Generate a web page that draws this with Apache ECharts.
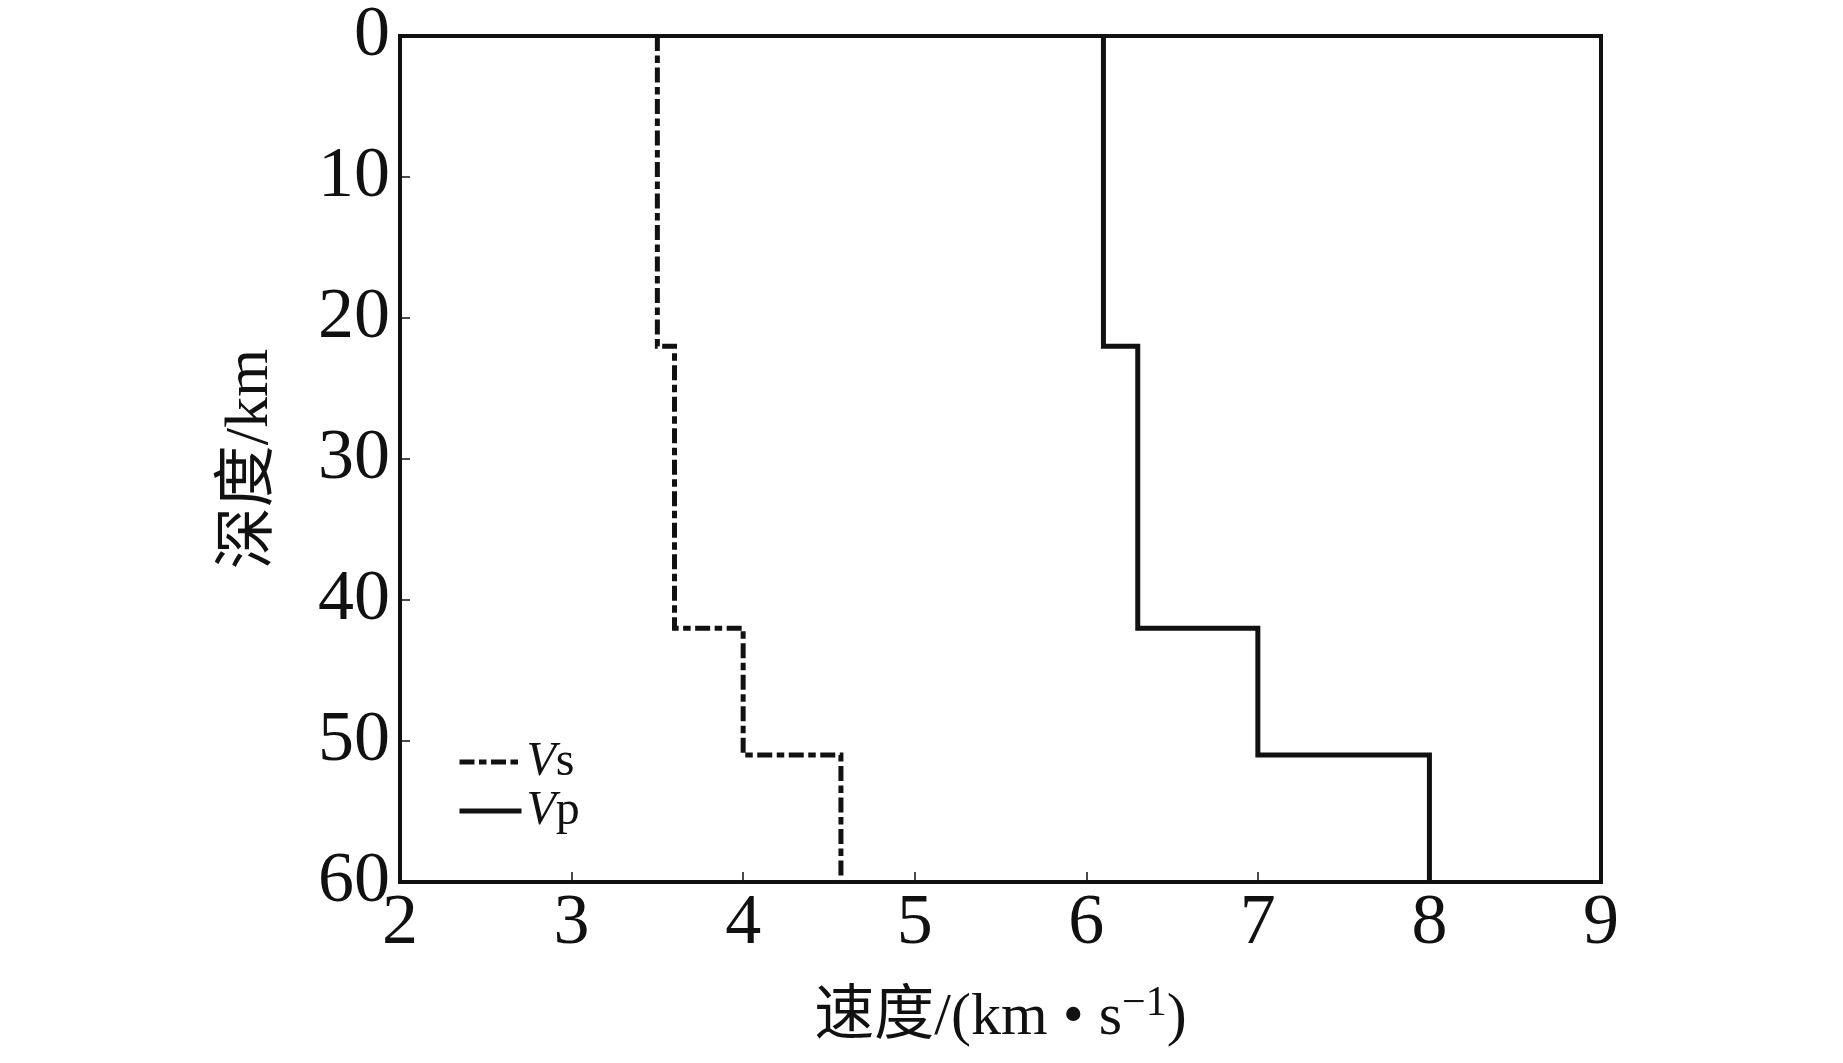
<!DOCTYPE html>
<html>
<head>
<meta charset="utf-8">
<script src="https://cdn.jsdelivr.net/npm/echarts@6/dist/echarts.min.js"></script>
<style>
  html, body { margin: 0; padding: 0; background: #fff; }
  #chart { width: 1843px; height: 1063px; }
</style>
</head>
<body>
<div id="chart"></div>
<script>
// layer boundaries (km) and velocities per layer (km/s)
const depthBreaks = [0, 22, 42, 51, 60]
const vsValues = [3.5, 3.6, 4.0, 4.57]
const vpValues = [6.1, 6.3, 7.0, 8.0]
const xTicks = [2, 3, 4, 5, 6, 7, 8, 9]
const yTicks = [0, 10, 20, 30, 40, 50, 60]

const FONT = 'Liberation Serif, Noto Sans CJK SC, serif'
const DASH = [15, 4.5, 7.5, 4.5]

// turn layer values into a step profile [velocity, depth]
function stepProfile(values) {
  const pts = []
  values.forEach((v, i) => {
    pts.push([v, depthBreaks[i]])
    pts.push([v, depthBreaks[i + 1]])
  })
  return pts
}

const chart = echarts.init(document.getElementById('chart'))

chart.setOption({
  animation: false,
  backgroundColor: '#fff',
  color: ['#111', '#111'],
  grid: {
    left: 400,
    right: 242,
    top: 32,
    bottom: 181,
    show: true,
    borderColor: '#111',
    borderWidth: 4,
    backgroundColor: 'transparent'
  },
  legend: {
    orient: 'vertical',
    left: 452,
    top: 733,
    itemWidth: 62,
    itemHeight: 20,
    itemGap: 1,
    itemStyle: { color: 'transparent', borderColor: 'transparent', borderWidth: 0, opacity: 0 },
    lineStyle: { width: 5 },
    textStyle: {
      fontFamily: FONT,
      fontSize: 48,
      color: '#111',
      rich: {
        i: { fontFamily: FONT, fontSize: 48, fontStyle: 'italic', color: '#111' }
      }
    },
    formatter: (name) => '{i|V}' + name.slice(1),
    data: ['Vs', 'Vp']
  },
  xAxis: {
    type: 'value',
    position: 'bottom',
    min: xTicks[0],
    max: xTicks[xTicks.length - 1],
    interval: 1,
    name: '速度/(km • s{sup|−1})',
    nameLocation: 'middle',
    nameGap: 101,
    nameTextStyle: {
      fontFamily: FONT,
      fontSize: 60,
      color: '#111',
      lineHeight: 70,
      rich: {
        sup: { fontFamily: FONT, fontSize: 42, color: '#111', verticalAlign: 'top', lineHeight: 36 }
      }
    },
    axisLine: { show: false, onZero: false },
    axisTick: { show: true, inside: true, length: 10, lineStyle: { color: '#111', width: 1.5 } },
    axisLabel: { fontFamily: FONT, fontSize: 72, color: '#111', margin: 6 },
    splitLine: { show: false }
  },
  yAxis: {
    type: 'value',
    position: 'left',
    inverse: true,
    min: yTicks[0],
    max: yTicks[yTicks.length - 1],
    interval: 10,
    name: '深度/km',
    nameLocation: 'middle',
    nameGap: 118,
    nameRotate: 90,
    nameTextStyle: { fontFamily: FONT, fontSize: 62, color: '#111' },
    axisLine: { show: false, onZero: false },
    axisTick: { show: true, inside: true, length: 10, lineStyle: { color: '#111', width: 1.5 } },
    axisLabel: { fontFamily: FONT, fontSize: 72, color: '#111', margin: 10 },
    splitLine: { show: false }
  },
  series: [
    {
      name: 'Vs',
      type: 'line',
      data: stepProfile(vsValues),
      showSymbol: false,
      symbol: 'none',
      itemStyle: { color: '#111' },
      lineStyle: { color: '#111', width: 5, type: DASH, cap: 'butt', join: 'miter' }
    },
    {
      name: 'Vp',
      type: 'line',
      data: stepProfile(vpValues),
      showSymbol: false,
      symbol: 'none',
      itemStyle: { color: '#111' },
      lineStyle: { color: '#111', width: 5, type: 'solid', join: 'miter' }
    }
  ]
})
</script>
</body>
</html>
